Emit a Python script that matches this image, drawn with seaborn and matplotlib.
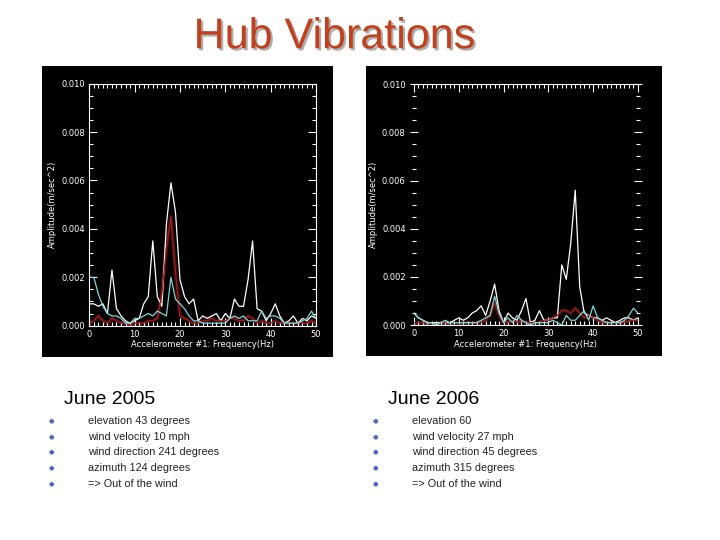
import matplotlib
matplotlib.use("Agg")
import matplotlib.pyplot as plt
import matplotlib.patheffects as pe
from matplotlib.ticker import MultipleLocator, FormatStrFormatter
import pandas as pd
import seaborn as sns

# frequency bins (Hz)
freq = list(range(51))

# June 2005 spectra (m/sec^2)
white_2005 = [0.0009, 0.0009, 0.0008, 0.0009, 0.0005, 0.0023, 0.0007, 0.0004, 0.0002, 0.0001,
              0.0002, 0.0003, 0.0009, 0.0012, 0.0035, 0.0012, 0.0008, 0.0042, 0.0059, 0.0047,
              0.0019, 0.0012, 0.0009, 0.0011, 0.0002, 0.0004, 0.0003, 0.0004, 0.0005, 0.0002,
              0.0005, 0.0003, 0.0011, 0.0008, 0.0008, 0.0019, 0.0035, 0.0007, 0.0006, 0.0002,
              0.0005, 0.0009, 0.0004, 0.0001, 0.0002, 0.0004, 0.0001, 0.0003, 0.0002, 0.0004, 0.0003]
cyan_2005 = [0.0020, 0.0020, 0.0013, 0.0008, 0.0005, 0.0004, 0.0004, 0.0003, 0.0001, 0.0001,
             0.0003, 0.0003, 0.0004, 0.0005, 0.0004, 0.0006, 0.0005, 0.0004, 0.0020, 0.0011,
             0.0009, 0.0007, 0.0004, 0.0002, 0.0002, 0.0001, 0.0001, 0.0001, 0.0001, 0.0001,
             0.0001, 0.0003, 0.0004, 0.0003, 0.0004, 0.0002, 0.0002, 0.0002, 0.0006, 0.0003,
             0.0004, 0.0004, 0.0003, 0.0001, 0.0001, 0.0001, 0.0001, 0.0002, 0.0003, 0.0006, 0.0003]
red_2005 = [0.0001, 0.0002, 0.0004, 0.0002, 0.0001, 0.0003, 0.0002, 0.0001, 0.0001, 0.0000,
            0.0001, 0.0001, 0.0001, 0.0002, 0.0002, 0.0003, 0.0013, 0.0032, 0.0045, 0.0022,
            0.0004, 0.0003, 0.0002, 0.0001, 0.0001, 0.0002, 0.0002, 0.0003, 0.0002, 0.0002,
            0.0002, 0.0003, 0.0003, 0.0002, 0.0002, 0.0004, 0.0003, 0.0001, 0.0002, 0.0001,
            0.0001, 0.0002, 0.0001, 0.0001, 0.0001, 0.0001, 0.0001, 0.0001, 0.0001, 0.0002, 0.0001]

# June 2006 spectra
white_2006 = [0.0005, 0.0003, 0.0002, 0.0001, 0.0001, 0.0001, 0.0001, 0.0001, 0.0001, 0.0002,
              0.0003, 0.0002, 0.0003, 0.0005, 0.0006, 0.0008, 0.0004, 0.0010, 0.0017, 0.0006,
              0.0001, 0.0005, 0.0003, 0.0002, 0.0006, 0.0011, 0.0001, 0.0002, 0.0006, 0.0002,
              0.0002, 0.0003, 0.0003, 0.0025, 0.0019, 0.0034, 0.0056, 0.0016, 0.0005, 0.0004,
              0.0003, 0.0003, 0.0002, 0.0003, 0.0002, 0.0001, 0.0002, 0.0003, 0.0003, 0.0002, 0.0003]
cyan_2006 = [0.0005, 0.0003, 0.0002, 0.0001, 0.0001, 0.0000, 0.0001, 0.0002, 0.0001, 0.0001,
             0.0001, 0.0001, 0.0001, 0.0001, 0.0001, 0.0002, 0.0003, 0.0004, 0.0012, 0.0005,
             0.0001, 0.0003, 0.0001, 0.0004, 0.0002, 0.0001, 0.0000, 0.0001, 0.0001, 0.0001,
             0.0001, 0.0002, 0.0001, 0.0000, 0.0004, 0.0002, 0.0002, 0.0004, 0.0006, 0.0002,
             0.0008, 0.0003, 0.0002, 0.0001, 0.0001, 0.0001, 0.0001, 0.0002, 0.0004, 0.0007, 0.0005]
red_2006 = [0.0001, 0.0001, 0.0001, 0.0000, 0.0000, 0.0000, 0.0001, 0.0001, 0.0000, 0.0000,
            0.0000, 0.0001, 0.0001, 0.0001, 0.0001, 0.0001, 0.0002, 0.0004, 0.0009, 0.0004,
            0.0001, 0.0001, 0.0002, 0.0001, 0.0002, 0.0001, 0.0001, 0.0001, 0.0001, 0.0002,
            0.0002, 0.0003, 0.0004, 0.0006, 0.0006, 0.0005, 0.0007, 0.0005, 0.0003, 0.0004,
            0.0003, 0.0002, 0.0001, 0.0001, 0.0001, 0.0001, 0.0001, 0.0001, 0.0002, 0.0002, 0.0002]

notes_2005 = ["elevation 43 degrees", "wind velocity 10 mph", "wind direction 241 degrees",
              "azimuth 124 degrees", "=> Out of the wind"]
notes_2006 = ["elevation 60", "wind velocity 27 mph", "wind direction 45 degrees",
              "azimuth 315 degrees", "=> Out of the wind"]

palette = {"white": "#ffffff", "red": "#9a2020", "cyan": "#7fd6d6"}


def long_frame(white, cyan, red):
    frames = []
    for name, vals in [("white", white), ("red", red), ("cyan", cyan)]:
        frames.append(pd.DataFrame({"freq": freq, "amp": vals, "sensor": name}))
    return pd.concat(frames, ignore_index=True)


def spectrum(ax, df, side_spines):
    ax.set_facecolor("black")
    # glow under the red trace
    red = df[df["sensor"] == "red"]
    ax.plot(red["freq"], red["amp"], color="#7a1a1a", lw=3, alpha=0.45, zorder=1)
    sns.lineplot(data=df, x="freq", y="amp", hue="sensor", palette=palette,
                 legend=False, ax=ax, linewidth=0.9, zorder=2)
    ax.set_xlim(0, 50)
    ax.set_ylim(0, 0.010)
    ax.xaxis.set_major_locator(MultipleLocator(10))
    ax.xaxis.set_minor_locator(MultipleLocator(1))
    ax.yaxis.set_major_locator(MultipleLocator(0.002))
    ax.yaxis.set_minor_locator(MultipleLocator(0.0005))
    ax.yaxis.set_major_formatter(FormatStrFormatter("%.3f"))
    ax.tick_params(which="both", colors="white", labelcolor="white", labelsize=6,
                   top=True, right=True, direction="in", width=0.8)
    if not side_spines:
        ax.tick_params(axis="y", which="both", direction="inout")
    ax.tick_params(which="major", length=6, pad=3)
    ax.tick_params(which="minor", length=3)
    for s in ["top", "bottom"]:
        ax.spines[s].set_color("white")
    for s in ["left", "right"]:
        ax.spines[s].set_color("white")
        ax.spines[s].set_visible(side_spines)
    ax.set_xlabel("Accelerometer #1: Frequency(Hz)", color="white", fontsize=6, labelpad=1)
    ax.set_ylabel("Amplitude(m/sec^2)", color="white", fontsize=6, labelpad=3)


fig = plt.figure(figsize=(7.2, 5.4), dpi=100)
fig.patch.set_facecolor("white")

# black panels behind the plots
for rect in [(0.058, 0.339, 0.404, 0.539), (0.508, 0.341, 0.411, 0.537)]:
    bg = fig.add_axes(rect)
    bg.set_facecolor("black")
    bg.set_xticks([])
    bg.set_yticks([])
    for s in bg.spines.values():
        s.set_visible(False)

ax1 = fig.add_axes((0.124, 0.397, 0.315, 0.448))
spectrum(ax1, long_frame(white_2005, cyan_2005, red_2005), True)
ax2 = fig.add_axes((0.575, 0.398, 0.311, 0.446))
spectrum(ax2, long_frame(white_2006, cyan_2006, red_2006), False)

fig.text(0.464, 0.931, "Hub Vibrations", ha="center", va="center", fontsize=31,
         family="Liberation Sans", color="#c2401c",
         path_effects=[pe.withSimplePatchShadow(offset=(1.5, -1.5), shadow_rgbFace="#9a9a9a", alpha=0.8)])

for x0, heading, notes in [(64, "June 2005", notes_2005), (388, "June 2006", notes_2006)]:
    fig.text(x0 / 720, 1 - 400 / 540, heading, ha="left", va="center", fontsize=14,
             family="Liberation Sans", color="black")
    for i, line in enumerate(notes):
        y = 1 - (421 + i * 15.7) / 540
        fig.text((x0 - 13) / 720, y, "\u25cf", ha="center", va="center", fontsize=4.5,
                 color="#5068c0")
        fig.text((x0 + 24) / 720, y, line, ha="left", va="center", fontsize=7.8,
                 family="Liberation Sans", color="#222222")

fig.savefig("out.png", dpi=100, facecolor="white")
